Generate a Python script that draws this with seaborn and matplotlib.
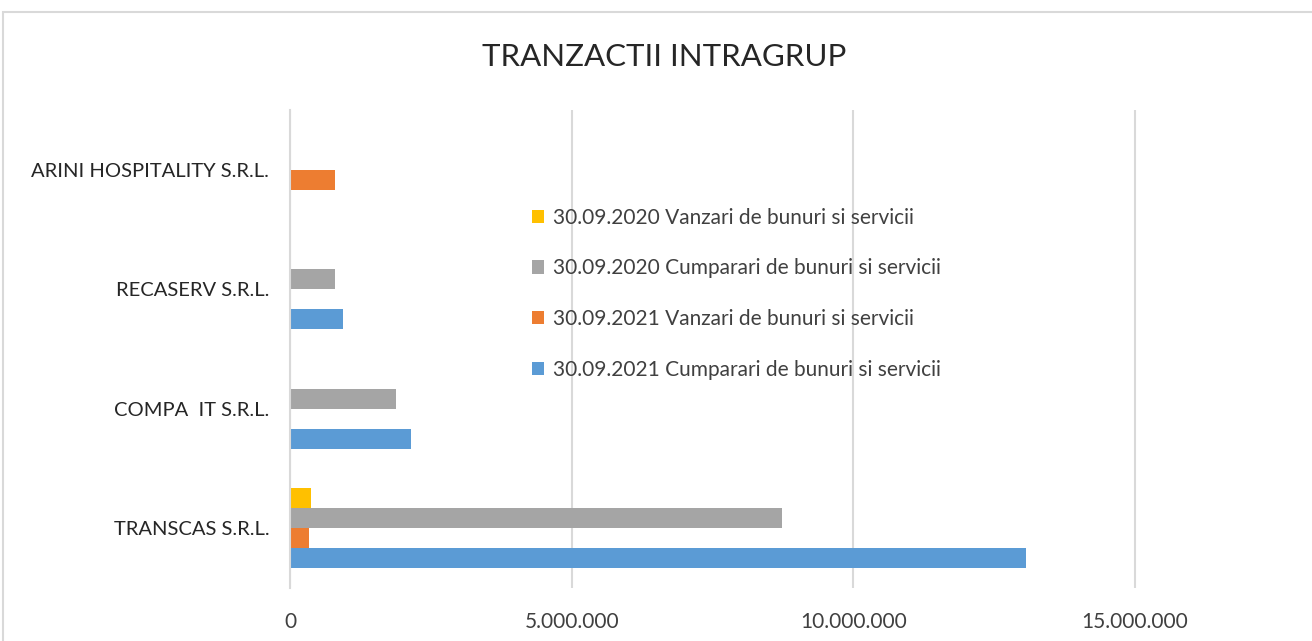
import matplotlib
matplotlib.use("Agg")
import matplotlib.pyplot as plt
import matplotlib.ticker as mticker
from matplotlib.patches import Rectangle, Patch
import seaborn as sns
import pandas as pd

companies = ["ARINI HOSPITALITY S.R.L.", "RECASERV S.R.L.", "COMPA  IT S.R.L.", "TRANSCAS S.R.L."]
series = ["30.09.2020 Vanzari de bunuri si servicii",
          "30.09.2020 Cumparari de bunuri si servicii",
          "30.09.2021 Vanzari de bunuri si servicii",
          "30.09.2021 Cumparari de bunuri si servicii"]
v2020_vanzari = [0, 10000, 8000, 370000]
v2020_cumparari = [0, 800000, 1890000, 8730000]
v2021_vanzari = [800000, 12000, 8000, 335000]
v2021_cumparari = [0, 935000, 2140000, 13070000]
colors = ["#FFC000", "#A5A5A5", "#ED7D31", "#5B9BD5"]
xticks = [0, 5000000, 10000000, 15000000]

rows = []
for s, vals in zip(series, [v2020_vanzari, v2020_cumparari, v2021_vanzari, v2021_cumparari]):
    for c, v in zip(companies, vals):
        rows.append({"company": c, "series": s, "value": v})
df = pd.DataFrame(rows)

sns.set_theme(style="white")
plt.rcParams["font.family"] = ["Lato", "DejaVu Sans"]

W, H = 1312, 641
fig = plt.figure(figsize=(W / 100, H / 100), dpi=100)
ax = fig.add_axes([290 / W, 1 - 588 / H, 1 - 290 / W, (588 - 110) / H])

sns.barplot(data=df, x="value", y="company", hue="series", order=companies,
            hue_order=series, palette=colors, orient="h", width=0.67,
            saturation=1, ax=ax, legend=False, edgecolor="none")

ax.set_xlim(0, (W - 290) / (281.67 / 5e6))
ax.set_xticks(xticks)
ax.xaxis.set_major_formatter(mticker.FuncFormatter(lambda v, p: f"{int(v):,}".replace(",", ".")))
ax.grid(axis="x", color="#d9d9d9", linewidth=1.5)
ax.grid(axis="y", visible=False)
for s in ["top", "right", "bottom"]:
    ax.spines[s].set_visible(False)
ax.spines["left"].set_color("#d9d9d9")
ax.spines["left"].set_linewidth(1.5)
ax.set_xlabel("")
ax.set_ylabel("")
ax.tick_params(axis="x", length=0, pad=17, labelsize=15, labelcolor="#404040")
ax.tick_params(axis="y", length=0, pad=15, labelsize=14.5, labelcolor="#262626")

handles = [Patch(facecolor=c, edgecolor="none") for c in colors]
leg = fig.legend(handles, series, loc="upper left", bbox_to_anchor=(513 / W, 1 - 189 / H),
                 frameon=False, fontsize=15, labelspacing=1.47, handlelength=0.6,
                 handleheight=0.6, handletextpad=0.4, labelcolor="#404040")

fig.text(664 / W, 1 - 57 / H, "TRANZACTII INTRAGRUP", ha="center", va="center",
         fontsize=22.5, color="#262626")

fig.patches.append(Rectangle((3 / W, -0.1), 1.2, 1 - 12 / H + 0.1, transform=fig.transFigure,
                             fill=False, edgecolor="#d9d9d9", linewidth=1.5, zorder=0))

fig.savefig("out.png", dpi=100)
